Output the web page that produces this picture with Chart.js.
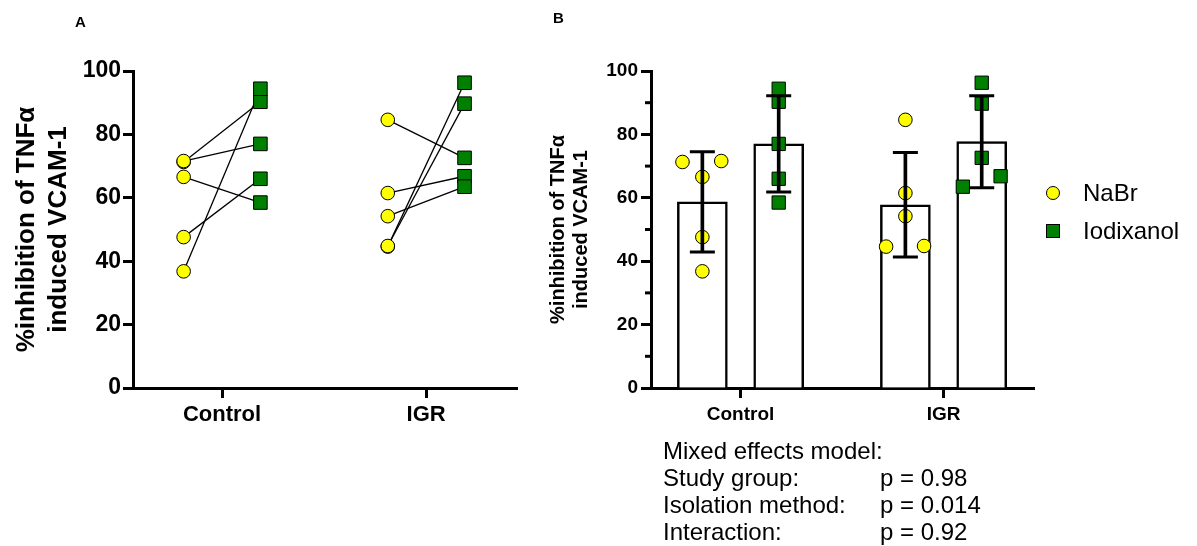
<!DOCTYPE html>
<html>
<head>
<meta charset="utf-8">
<script src="https://cdn.jsdelivr.net/npm/chart.js@4.4.0/dist/chart.umd.min.js"></script>
<style>
  body { margin: 0; background: #fff; font-family: "Liberation Sans", Arial, sans-serif; }
  #wrap { position: relative; width: 1197px; height: 546px; overflow: hidden; }
  #chartA { position: absolute; left: 0; top: 0; }
  #chartB { position: absolute; left: 520px; top: 0; }
  .tag { position: absolute; font-weight: bold; font-size: 15px; }
  .legend { position: absolute; left: 1046px; font-size: 24px; }
  .legend div { height: 38px; display: flex; align-items: center; }
  .mk { width: 12px; height: 12px; border: 1px solid #000; margin-right: 23px; }
  .stats { position: absolute; left: 663px; top: 437px; font-size: 24px; line-height: 27px; }
  .stats span { display: inline-block; width: 217px; }
</style>
</head>
<body>
<div id="wrap">
  <canvas id="chartA" width="530" height="440"></canvas>
  <canvas id="chartB" width="530" height="440"></canvas>
  <div class="tag" style="left:75px; top:13px;">A</div>
  <div class="tag" style="left:553px; top:9px;">B</div>
  <div class="legend" style="top:174px;">
    <div><span class="mk" style="background:#ffff00; border-radius:50%;"></span>NaBr</div>
    <div><span class="mk" style="background:#008000;"></span>Iodixanol</div>
  </div>
  <div class="stats">
    Mixed effects model:<br>
    <span>Study group:</span>p = 0.98<br>
    <span>Isolation method:</span>p = 0.014<br>
    <span>Interaction:</span>p = 0.92
  </div>
</div>
<script>
// values (paired by donor index)
const groups = ['Control', 'IGR'];
const nabrControl = [71.3, 71.6, 66.6, 47.6, 36.8];
const iodixControl = [90.3, 77.0, 58.5, 66.0, 94.4];
const nabrIGR = [84.6, 61.5, 54.2, 44.6, 44.8];
const iodixIGR = [72.6, 66.8, 63.5, 96.3, 89.7];
const nabrMean = [58.7, 57.8];
const iodixMean = [77.0, 77.7];
const nabrSD = [15.8, 16.5];
const iodixSD = [15.2, 14.5];
const yTicks = [0, 20, 40, 60, 80, 100];
const yMinorTicks = [10, 30, 50, 70, 90];

// layout only
const DODGE = 0.188;
const jitterNabr = [[-0.098, 0.093, 0, 0, 0], [0, 0, 0, -0.095, 0.092]];
const jitterIodix = [[0, 0, 0, 0, 0], [0, 0.093, -0.093, 0, 0]];

const YELLOW = '#ffff00';
const GREEN = '#008000';
const FONT = '"Liberation Sans", Arial, sans-serif';
const nabr = [nabrControl, nabrIGR];
const iodix = [iodixControl, iodixIGR];

function xAxis(min, max, size, pad) {
    return {
        type: 'linear', min: min, max: max, offset: false,
        afterBuildTicks: s => { s.ticks = groups.map((g, i) => ({ value: i })); },
        afterFit: s => { s.height = 52; },
        ticks: { callback: v => groups[v], color: '#000', padding: pad, font: { family: FONT, size: size, weight: 'bold' }, maxRotation: 0 },
        grid: { offset: false, drawOnChartArea: false, tickLength: 10, tickWidth: 3, tickColor: '#000' },
        border: { display: true, color: '#000', width: 3 }
    };
}
function yAxis(width, tickSize, titleSize, lineH, titlePad, tickPad) {
    return {
        min: 0, max: 100,
        afterBuildTicks: s => { s.ticks = yTicks.map(v => ({ value: v })); },
        afterFit: s => { s.width = width; },
        ticks: { color: '#000', padding: tickPad, font: { family: FONT, size: tickSize, weight: 'bold' } },
        grid: { drawOnChartArea: false, tickLength: 10, tickWidth: 3, tickColor: '#000' },
        border: { display: true, color: '#000', width: 3 },
        title: {
            display: true, text: ['%inhibition of TNFα', 'induced VCAM-1'], color: '#000',
            padding: { top: titlePad, bottom: 0 },
            font: { family: FONT, size: titleSize, weight: 'bold', lineHeight: lineH }
        }
    };
}
const common = {
    responsive: false, animation: false, devicePixelRatio: 1,
    plugins: { legend: { display: false }, tooltip: { enabled: false } }
};

// ---- panel A: paired points ----
const pairSets = [];
groups.forEach((g, gi) => {
    nabr[gi].forEach((v, i) => {
        pairSets.push({
            type: 'line', data: [{ x: gi - DODGE, y: v }, { x: gi + DODGE, y: iodix[gi][i] }],
            borderColor: '#000', borderWidth: 1.3, pointRadius: 0, order: 2
        });
    });
});
new Chart(document.getElementById('chartA'), {
    type: 'scatter',
    data: {
        datasets: pairSets.concat([
            {
                label: 'NaBr', order: 1, clip: false,
                data: groups.flatMap((g, gi) => nabr[gi].map(v => ({ x: gi - DODGE, y: v }))),
                pointStyle: 'circle', pointRadius: 6.8, backgroundColor: YELLOW, borderColor: '#000', borderWidth: 1
            },
            {
                label: 'Iodixanol', order: 1, clip: false,
                data: groups.flatMap((g, gi) => iodix[gi].map(v => ({ x: gi + DODGE, y: v }))),
                pointStyle: 'rect', pointRadius: 9.6, backgroundColor: GREEN, borderColor: '#000', borderWidth: 1
            }
        ])
    },
    options: Object.assign({}, common, {
        layout: { padding: { left: 0, top: 71, right: 13, bottom: 0 } },
        scales: {
            x: xAxis(-0.436, 1.445, 22, 4),
            y: yAxis(133, 23, 26, 1.23, 11, 2)
        }
    })
});

// ---- panel B: mean bars with SD and points ----
const minorTicks = {
    id: 'minorTicks',
    afterDraw(chart) {
        const s = chart.scales.y, ctx = chart.ctx;
        ctx.save();
        ctx.strokeStyle = '#000';
        ctx.lineWidth = 3;
        yMinorTicks.forEach(v => {
            const y = s.getPixelForValue(v);
            ctx.beginPath();
            ctx.moveTo(s.right - 6, y);
            ctx.lineTo(s.right, y);
            ctx.stroke();
        });
        ctx.restore();
    }
};
function sdSets(means, sds, off) {
    return [
        {
            type: 'bar', grouped: false, order: 1, barThickness: 3, backgroundColor: '#000', borderWidth: 0,
            data: means.map((m, gi) => ({ x: gi + off, y: [m - sds[gi], m + sds[gi]] }))
        },
        {
            type: 'scatter', order: 1, pointStyle: 'line', pointRadius: 12.5, borderColor: '#000', borderWidth: 3,
            data: means.flatMap((m, gi) => [{ x: gi + off, y: m - sds[gi] }, { x: gi + off, y: m + sds[gi] }])
        }
    ];
}
new Chart(document.getElementById('chartB'), {
    type: 'scatter',
    data: {
        datasets: [
            {
                type: 'bar', grouped: false, order: 3, barThickness: 50, backgroundColor: '#fff', borderColor: '#000', borderWidth: 2.5,
                data: nabrMean.map((m, gi) => ({ x: gi - DODGE, y: m }))
            },
            {
                type: 'bar', grouped: false, order: 3, barThickness: 50, backgroundColor: '#fff', borderColor: '#000', borderWidth: 2.5,
                data: iodixMean.map((m, gi) => ({ x: gi + DODGE, y: m }))
            },
            {
                label: 'NaBr', order: 2, clip: false,
                data: groups.flatMap((g, gi) => nabr[gi].map((v, i) => ({ x: gi - DODGE + jitterNabr[gi][i], y: v }))),
                pointStyle: 'circle', pointRadius: 6.8, backgroundColor: YELLOW, borderColor: '#000', borderWidth: 1
            },
            {
                label: 'Iodixanol', order: 2, clip: false,
                data: groups.flatMap((g, gi) => iodix[gi].map((v, i) => ({ x: gi + DODGE + jitterIodix[gi][i], y: v }))),
                pointStyle: 'rect', pointRadius: 9.4, backgroundColor: GREEN, borderColor: '#000', borderWidth: 1
            }
        ].concat(sdSets(nabrMean, nabrSD, -DODGE), sdSets(iodixMean, iodixSD, DODGE))
    },
    options: Object.assign({}, common, {
        layout: { padding: { left: 0, top: 71, right: 15, bottom: 0 } },
        scales: {
            x: xAxis(-0.441, 1.448, 19, 5),
            y: yAxis(131, 19, 20, 1.15, 27, 3)
        }
    }),
    plugins: [minorTicks]
});
</script>
</body>
</html>
